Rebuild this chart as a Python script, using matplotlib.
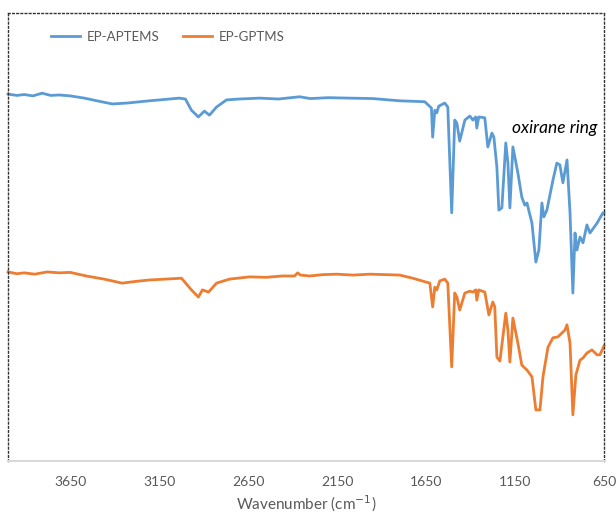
import matplotlib
matplotlib.use("Agg")
import matplotlib.pyplot as plt

plt.rcParams['font.family'] = ['Lato', 'DejaVu Sans']

# EP-APTEMS (blue) spectrum: wavenumber (cm-1), transmittance (a.u.)
aptems_wn = [4000, 3950, 3909, 3860, 3808, 3760, 3712, 3650, 3571, 3500, 3414, 3330,
             3206, 3120, 3037, 3003, 2969, 2930, 2896,
             2868, 2828, 2772, 2700, 2586, 2480, 2361, 2300, 2200, 2080, 1950, 1798,
             1658, 1620, 1613, 1601, 1590,
             1579, 1545, 1528, 1506, 1489, 1477, 1461, 1432, 1404, 1387, 1371, 1365,
             1354, 1320, 1303, 1280, 1269, 1252, 1241, 1224, 1202, 1190, 1179, 1162,
             1134, 1112, 1095, 1083, 1055, 1033, 1016, 999, 988, 971, 937, 915, 898,
             881, 858, 841, 825, 813, 802, 785, 768, 746, 729, 689, 656, 650]
aptems_t = [81.9, 81.6, 81.8, 81.5, 82.1, 81.6, 81.7, 81.5, 81.0, 80.4, 79.7, 79.9,
            80.4, 80.7, 81.0, 80.8, 78.3, 76.8, 78.1,
            77.2, 79.0, 80.6, 80.8, 81.0, 80.8, 81.3, 80.9, 81.1, 81.0, 80.9, 80.4,
            80.2, 78.8, 72.3, 78.3, 77.7,
            79.2, 79.9, 79.0, 55.4, 76.1, 75.4, 71.4, 76.1, 77.0, 76.1, 76.8, 74.3,
            76.8, 76.6, 70.1, 73.2, 72.3, 65.6, 56.0, 56.5, 71.0, 66.5, 56.5, 70.1,
            64.3, 58.9, 57.1, 57.6, 53.1, 44.4, 47.1, 57.6, 54.5, 56.0, 62.7, 66.5, 66.1,
            62.1, 67.2, 55.4, 37.5, 50.9, 47.1, 50.0, 48.7, 52.7, 50.9, 53.1, 55.4, 55.4]

# EP-GPTMS (orange) spectrum
gptms_wn = [4000, 3950, 3909, 3850, 3780, 3712, 3650, 3560, 3460, 3358, 3280, 3206,
            3025, 2969, 2930, 2907, 2873, 2828,
            2755, 2643, 2550, 2457, 2389, 2372, 2356, 2305, 2230, 2153, 2060, 1967,
            1880, 1798, 1725, 1629,
            1613, 1601, 1590, 1573, 1545, 1528, 1506, 1489, 1477, 1461, 1432, 1404,
            1387, 1371, 1365, 1354, 1320, 1297, 1275, 1264, 1252, 1235, 1202, 1190,
            1179, 1162, 1134, 1112, 1083, 1055, 1033, 1010, 993, 965, 937, 909, 886,
            870, 858, 841, 825, 808, 785, 768, 746, 718, 689, 673, 650]
gptms_t = [42.2, 41.8, 42.0, 41.7, 42.2, 42.0, 42.1, 41.3, 40.6, 39.7, 40.1, 40.4,
           40.8, 38.2, 36.6, 38.2, 37.7, 39.7,
           40.6, 41.1, 41.0, 41.3, 41.3, 42.0, 41.5, 41.3, 41.6, 41.7, 41.5, 41.7,
           41.6, 41.5, 40.8, 39.7,
           34.4, 38.8, 38.2, 40.2, 40.6, 39.7, 21.0, 37.5, 36.6, 33.7, 37.5, 37.9,
           37.7, 38.2, 35.9, 38.2, 37.7, 32.6, 35.5, 34.4, 23.2, 22.3, 33.0, 29.2,
           22.1, 31.9, 26.3, 21.4, 20.3, 18.8, 11.4, 11.4, 18.8, 25.4, 27.5, 27.7, 28.6,
           29.2, 30.4, 26.3, 10.3, 19.2, 22.5, 23.0, 24.1, 24.8, 23.7, 23.7, 25.7]

series_names = ['EP-APTEMS', 'EP-GPTMS']
x_ticks = [3650, 3150, 2650, 2150, 1650, 1150, 650]
annotation = 'oxirane ring'
annotation_pos = (1168, 74.3)

fig = plt.figure(figsize=(6.16, 5.13), dpi=100)
ax = fig.add_axes([8/616, 52/513, 596/616, 448/513])

ax.plot(aptems_wn, aptems_t, color='#5B9BD5', lw=2.0, label=series_names[0],
        solid_joinstyle='round', clip_on=False)
ax.plot(gptms_wn, gptms_t, color='#ED7D31', lw=2.0, label=series_names[1],
        solid_joinstyle='round', clip_on=False)

ax.set_xlim(4000, 650)
ax.set_ylim(0, 100)
ax.set_xticks(x_ticks)
ax.set_xticklabels([str(v) for v in x_ticks])
ax.set_yticks([])
ax.tick_params(axis='x', length=0, pad=11, labelsize=10, labelcolor='#595959')

for s in ['left', 'top', 'right']:
    ax.spines[s].set_linestyle((0, (1.2, 1.8)))
    ax.spines[s].set_color('#333333')
    ax.spines[s].set_linewidth(1.0)
ax.spines['bottom'].set_color('#D9D9D9')
ax.spines['bottom'].set_linewidth(1.5)

ax.set_xlabel('Wavenumber (cm$^{-1}$)', fontsize=11, color='#595959', labelpad=4)

ax.text(annotation_pos[0], annotation_pos[1], annotation, fontsize=12.5,
        style='italic', color='black', ha='left', va='center')

leg = ax.legend(loc='center', bbox_to_anchor=(168/616, (513-37)/513),
                bbox_transform=fig.transFigure, ncol=2, frameon=False,
                fontsize=9.5, handlelength=2.2, handletextpad=0.5,
                columnspacing=1.8)
for t in leg.get_texts():
    t.set_color('#595959')

fig.savefig('out.png', dpi=100)
